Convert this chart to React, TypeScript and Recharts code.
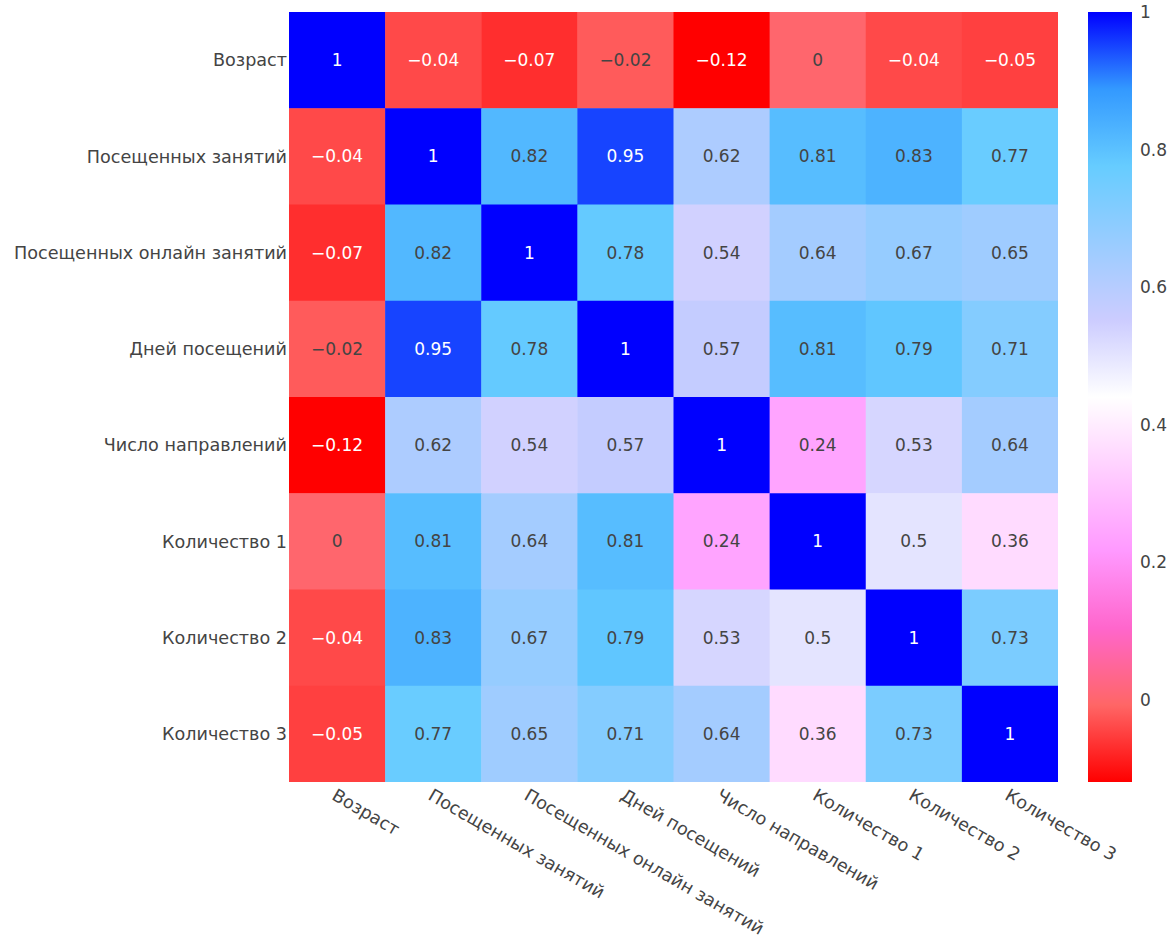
import React from 'react';
import { ScatterChart, Scatter, XAxis, YAxis, BarChart, Bar } from 'recharts';

const labels = [
  'Возраст',
  'Посещенных занятий',
  'Посещенных онлайн занятий',
  'Дней посещений',
  'Число направлений',
  'Количество 1',
  'Количество 2',
  'Количество 3',
];

const rowVozrast = [1, -0.04, -0.07, -0.02, -0.12, 0, -0.04, -0.05];
const rowZanyatiy = [-0.04, 1, 0.82, 0.95, 0.62, 0.81, 0.83, 0.77];
const rowOnline = [-0.07, 0.82, 1, 0.78, 0.54, 0.64, 0.67, 0.65];
const rowDney = [-0.02, 0.95, 0.78, 1, 0.57, 0.81, 0.79, 0.71];
const rowNapr = [-0.12, 0.62, 0.54, 0.57, 1, 0.24, 0.53, 0.64];
const rowKol1 = [0, 0.81, 0.64, 0.81, 0.24, 1, 0.5, 0.36];
const rowKol2 = [-0.04, 0.83, 0.67, 0.79, 0.53, 0.5, 1, 0.73];
const rowKol3 = [-0.05, 0.77, 0.65, 0.71, 0.64, 0.36, 0.73, 1];
const rows = [rowVozrast, rowZanyatiy, rowOnline, rowDney, rowNapr, rowKol1, rowKol2, rowKol3];

const colorbarTicks = [0, 0.2, 0.4, 0.6, 0.8, 1];
const zMin = -0.12;
const zMax = 1;

// Picnic colour scale (plotly), used reversed
const picnicStops = [0, 0.1, 0.2, 0.3, 0.4, 0.5, 0.6, 0.7, 0.8, 0.9, 1];
const picnicColors: number[][] = [
  [0, 0, 255],
  [51, 153, 255],
  [102, 204, 255],
  [153, 204, 255],
  [204, 204, 255],
  [255, 255, 255],
  [255, 204, 255],
  [255, 153, 255],
  [255, 102, 204],
  [255, 102, 102],
  [255, 0, 0],
];

const cells = rows.flatMap((r, yi) => r.map((v, xi) => ({ x: xi, y: yi, v })));

function colorRGB(v: number): number[] {
  const t = (v - zMin) / (zMax - zMin);
  const s = Math.min(1, Math.max(0, 1 - t));
  for (let i = 0; i < picnicStops.length - 1; i++) {
    if (s <= picnicStops[i + 1]) {
      const f = (s - picnicStops[i]) / (picnicStops[i + 1] - picnicStops[i]);
      const a = picnicColors[i];
      const b = picnicColors[i + 1];
      return [0, 1, 2].map((k) => Math.round(a[k] + (b[k] - a[k]) * f));
    }
  }
  return picnicColors[picnicColors.length - 1];
}

function fmt(v: number): string {
  const s = String(Math.round(v * 100) / 100);
  return s.replace('-', '\u2212');
}

const FONT = '"DejaVu Sans", Verdana, sans-serif';
const TEXT = '#444';
const FS = 17;
const LABEL_FS = 17.6;

const W = 1171;
const H = 940;
const LEFT = 289;
const TOP = 12;
const RIGHT = 1058;
const BOTTOM = 782;
const CELL_W = (RIGHT - LEFT) / 8;
const CELL_H = (BOTTOM - TOP) / 8;

const CellShape = (props: any) => {
  const { cx, cy, payload } = props;
  const [r, g, b] = colorRGB(payload.v);
  const bright = (r * 299 + g * 587 + b * 114) / 1000;
  const textColor = bright > 128 ? TEXT : '#fff';
  return (
    <g>
      <rect
        x={cx - CELL_W / 2}
        y={cy - CELL_H / 2}
        width={CELL_W + 0.5}
        height={CELL_H + 0.5}
        fill={`rgb(${r},${g},${b})`}
      />
      <text
        x={cx}
        y={cy}
        dy="0.35em"
        textAnchor="middle"
        fontFamily={FONT}
        fontSize={FS}
        fill={textColor}
      >
        {fmt(payload.v)}
      </text>
    </g>
  );
};

const XTick = (props: any) => {
  const { x, y, payload } = props;
  return (
    <g transform={`translate(${x},${y + 6})`}>
      <text
        transform="rotate(30)"
        textAnchor="start"
        dy="0.71em"
        fontFamily={FONT}
        fontSize={LABEL_FS}
        fill={TEXT}
      >
        {labels[payload.value]}
      </text>
    </g>
  );
};

const YTick = (props: any) => {
  const { x, y, payload } = props;
  return (
    <text
      x={x - 2}
      y={y}
      dy="0.35em"
      textAnchor="end"
      fontFamily={FONT}
      fontSize={LABEL_FS}
      fill={TEXT}
    >
      {labels[payload.value]}
    </text>
  );
};

const idx = labels.map((_, i) => i);
const colorbarData = [{ name: 'cb', range: [zMin, zMax] }];

export default function App() {
  return (
    <div style={{ position: 'fixed', left: 0, top: 0, width: 1171, height: 940, background: '#fff', overflow: 'hidden' }}>
      <div style={{ position: 'absolute', left: 0, top: 0 }}>
        <ScatterChart width={W} height={H} margin={{ top: TOP, right: W - RIGHT, bottom: 0, left: 0 }}>
          <XAxis
            type="number"
            dataKey="x"
            domain={[-0.5, 7.5]}
            ticks={idx}
            interval={0}
            axisLine={false}
            tickLine={false}
            tickSize={0}
            tickMargin={0}
            height={H - BOTTOM}
            tick={<XTick />}
            allowDataOverflow
          />
          <YAxis
            type="number"
            dataKey="y"
            domain={[-0.5, 7.5]}
            ticks={idx}
            interval={0}
            reversed
            axisLine={false}
            tickLine={false}
            tickSize={0}
            tickMargin={0}
            width={LEFT}
            tick={<YTick />}
            allowDataOverflow
          />
          <Scatter data={cells} shape={<CellShape />} isAnimationActive={false} />
        </ScatterChart>
      </div>
      <div style={{ position: 'absolute', left: 1088, top: 0 }}>
        <BarChart
          width={83}
          height={H}
          data={colorbarData}
          margin={{ top: TOP, right: 0, bottom: H - BOTTOM, left: 0 }}
          barCategoryGap={0}
        >
          <defs>
            <linearGradient id="cbGrad" x1="0" y1="0" x2="0" y2="1">
              {picnicStops.map((s, i) => (
                <stop
                  key={i}
                  offset={s}
                  stopColor={`rgb(${picnicColors[i][0]},${picnicColors[i][1]},${picnicColors[i][2]})`}
                />
              ))}
            </linearGradient>
          </defs>
          <XAxis dataKey="name" hide />
          <YAxis
            orientation="right"
            type="number"
            domain={[zMin, zMax]}
            ticks={colorbarTicks}
            interval={0}
            axisLine={false}
            tickLine={false}
            tickSize={0}
            tickMargin={8}
            width={39}
            allowDataOverflow
            tick={{ fontFamily: FONT, fontSize: FS, fill: TEXT, textAnchor: 'start' }}
            tickFormatter={(v: number) => String(v)}
          />
          <Bar dataKey="range" fill="url(#cbGrad)" isAnimationActive={false} />
        </BarChart>
      </div>
    </div>
  );
}
